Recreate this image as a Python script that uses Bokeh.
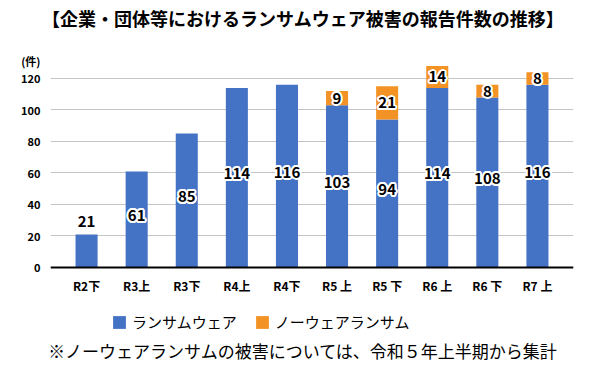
import math
from bokeh.plotting import figure
from bokeh.models import (ColumnDataSource, FactorRange, Range1d, FixedTicker, Legend,
                          LegendItem)
from bokeh.core.properties import value
from bokeh.embed import file_html
from bokeh.resources import INLINE

categories = ["R2下", "R3上", "R3下", "R4上", "R4下", "R5 上", "R5 下", "R6 上", "R6 下", "R7 上"]
ransomware = [21, 61, 85, 114, 116, 103, 94, 114, 108, 116]
noware = [0, 0, 0, 0, 0, 9, 21, 14, 8, 8]
y_ticks = [0, 20, 40, 60, 80, 100, 120]
unit_tick = 131
series_names = ["ランサムウェア", "ノーウェアランサム"]
title_text = "【企業・団体等におけるランサムウェア被害の報告件数の推移】"
unit_text = "(件)"
note_text = "※ノーウェアランサムの被害については、令和５年上半期から集計"

BLUE = "#4472C4"
ORANGE = "#F39325"
FONT = "Noto Sans CJK JP"

src = ColumnDataSource(dict(cats=categories, ransom=ransomware, noware=noware))

# frame spans the full canvas height; x from 50 to 573
p = figure(width=600, height=375, x_range=FactorRange(*categories, range_padding=0.044),
           y_range=Range1d(-68.57, 169.52), output_backend="svg", toolbar_location=None,
           min_border_left=50, min_border_right=27, min_border_top=0, min_border_bottom=0)
p.outline_line_color = None
p.background_fill_color = "white"
p.border_fill_color = "white"

rs = p.vbar_stack(["ransom", "noware"], x="cats", width=0.44, color=[BLUE, ORANGE],
                  line_color=None, source=src)

# y axis (with unit label as an extra tick)
p.yaxis.ticker = FixedTicker(ticks=y_ticks + [unit_tick])
p.yaxis.major_label_overrides = {unit_tick: unit_text}
p.yaxis.axis_line_color = None
p.yaxis.major_tick_line_color = None
p.yaxis.minor_tick_line_color = None
p.yaxis.major_tick_out = 0
p.yaxis.major_tick_in = 0
p.yaxis.major_label_text_font = FONT
p.yaxis.major_label_text_font_style = "bold"
p.yaxis.major_label_text_font_size = "11px"
p.yaxis.major_label_text_color = "black"
p.yaxis.major_label_standoff = 10

# x axis drawn at y = 0
p.xaxis.fixed_location = 0
p.xaxis.axis_line_color = "black"
p.xaxis.axis_line_width = 2
p.xaxis.major_tick_line_color = None
p.xaxis.minor_tick_line_color = None
p.xaxis.major_tick_out = 0
p.xaxis.major_tick_in = 0
p.xaxis.major_label_text_font = FONT
p.xaxis.major_label_text_font_style = "bold"
p.xaxis.major_label_text_font_size = "12px"
p.xaxis.major_label_text_color = "black"
p.xaxis.major_label_standoff = 10

p.xgrid.grid_line_color = None
p.ygrid.ticker = FixedTicker(ticks=y_ticks)
p.ygrid.grid_line_color = "#c4c4c4"
p.ygrid.grid_line_width = 1

# data labels (text glyphs with a white halo)
inside = dict(cats=[], y=[], t=[])
above = dict(cats=[], y=[], t=[])
for c, r in zip(categories, ransomware):
    if r < 30:
        above["cats"].append(c); above["y"].append(r); above["t"].append(str(r))
    else:
        inside["cats"].append(c); inside["y"].append(r / 2); inside["t"].append(str(r))
top = dict(cats=[], y=[], t=[])
for c, r, n in zip(categories, ransomware, noware):
    if n > 0:
        top["cats"].append(c); top["y"].append(r + n / 2); top["t"].append(str(n))

common = dict(text_font=value(FONT), text_font_style="bold", text_font_size="15px",
              text_align="center", text_baseline="middle")
halo = [(2 * math.cos(a * math.pi / 6), 2 * math.sin(a * math.pi / 6)) for a in range(12)]
for data, yo in ((inside, 4), (above, 13), (top, 0)):
    s = ColumnDataSource(data)
    for dx, dy in halo:
        p.text(x="cats", y="y", text="t", source=s, x_offset=dx, y_offset=-(yo + dy),
               text_color="white", **common)
    p.text(x="cats", y="y", text="t", source=s, y_offset=-yo, text_color="black", **common)

# legend (frame-relative screen position)
legend = Legend(items=[LegendItem(label=series_names[0], renderers=[rs[0]]),
                       LegendItem(label=series_names[1], renderers=[rs[1]])],
                orientation="horizontal", location=(61, 43),
                label_text_font=FONT, label_text_font_size="15px", label_text_color="black",
                glyph_width=16, glyph_height=16, spacing=17, label_standoff=5,
                border_line_color=None, background_fill_alpha=0, margin=0, padding=0)
p.add_layout(legend, "center")

# title and note, anchored to the category scale and shifted in pixels
anchor = categories[5]
p.text(x=[anchor], y=[158.1], text=[title_text], x_offset=-34,
       text_font=value(FONT), text_font_style="bold", text_font_size="18px",
       text_align="center", text_baseline="middle", text_color="black")
p.text(x=[anchor], y=[-52.7], text=[note_text], x_offset=-34,
       text_font=value(FONT), text_font_size="17px",
       text_align="center", text_baseline="middle", text_color="black")

open("out.html", "w").write(file_html(p, INLINE))
